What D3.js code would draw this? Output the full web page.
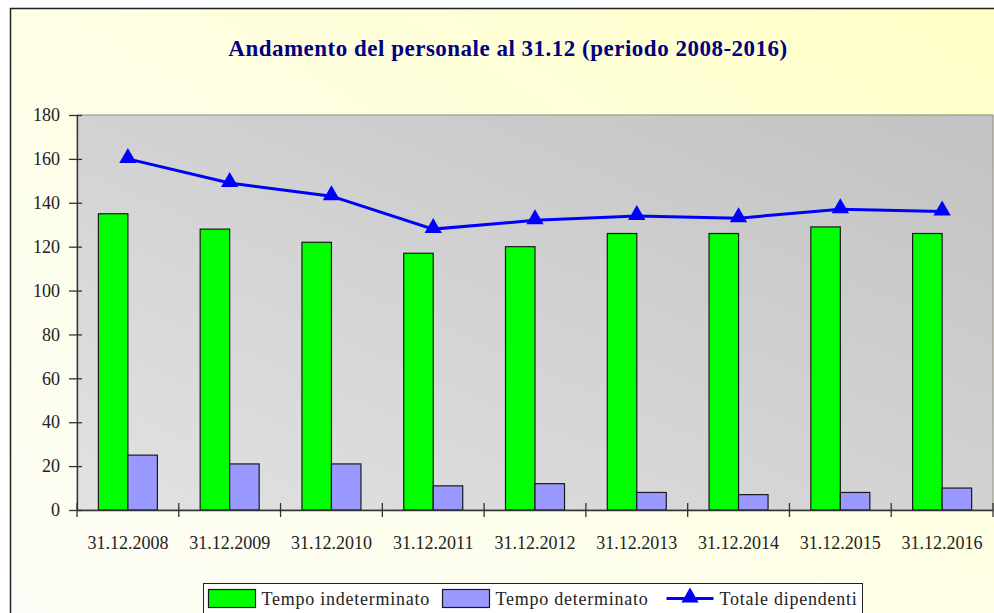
<!DOCTYPE html>
<html>
<head>
<meta charset="utf-8">
<script src="https://cdnjs.cloudflare.com/ajax/libs/d3/7.8.5/d3.min.js"></script>
<style>
  body { margin: 0; background: #fff; }
  svg { display: block; }
</style>
</head>
<body>
<svg width="994" height="613"></svg>
<script>
var categories = ["31.12.2008", "31.12.2009", "31.12.2010", "31.12.2011", "31.12.2012",
                  "31.12.2013", "31.12.2014", "31.12.2015", "31.12.2016"];
var indeterminato = [135, 128, 122, 117, 120, 126, 126, 129, 126];
var determinato = [25, 21, 21, 11, 12, 8, 7, 8, 10];
var totale = [160, 149, 143, 128, 132, 134, 133, 137, 136];
var yTicks = [0, 20, 40, 60, 80, 100, 120, 140, 160, 180];

var svg = d3.select("svg"),
    font = "'Liberation Serif', 'Times New Roman', serif",
    margin = {top: 115, right: 1, bottom: 103, left: 77},
    width = svg.attr("width") - margin.left - margin.right,
    height = svg.attr("height") - margin.top - margin.bottom;

var defs = svg.append("defs");

var bgGrad = defs.append("linearGradient")
    .attr("id", "bg")
    .attr("x1", "0").attr("y1", "1").attr("x2", "1").attr("y2", "0");
bgGrad.append("stop").attr("offset", "0").attr("stop-color", "#fdfdf8");
bgGrad.append("stop").attr("offset", "0.5").attr("stop-color", "#fefee6");
bgGrad.append("stop").attr("offset", "1").attr("stop-color", "#ffffc4");

var plotGrad = defs.append("linearGradient")
    .attr("id", "plotbg")
    .attr("x1", "0").attr("y1", "1").attr("x2", "1").attr("y2", "0");
plotGrad.append("stop").attr("offset", "0").attr("stop-color", "#e2e2e2");
plotGrad.append("stop").attr("offset", "1").attr("stop-color", "#c2c2c2");

// outer chart frame
svg.append("rect")
    .attr("x", 10.5).attr("y", 8.5)
    .attr("width", 1000).attr("height", 620)
    .attr("fill", "url(#bg)")
    .attr("stroke", "#222")
    .attr("stroke-width", 1.5);

svg.append("text")
    .attr("x", 508)
    .attr("y", 56)
    .attr("text-anchor", "middle")
    .attr("font-family", font)
    .attr("font-weight", "bold")
    .attr("font-size", 23)
    .attr("letter-spacing", 0.5)
    .attr("fill", "#000080")
    .text("Andamento del personale al 31.12 (periodo 2008-2016)");

var g = svg.append("g").attr("transform", "translate(" + margin.left + "," + margin.top + ")");

var x = d3.scaleBand().domain(categories).range([0, width]).paddingInner(0).paddingOuter(0),
    y = d3.scaleLinear().domain([0, 180]).range([height, 0]);

var barW = 29.5;

g.append("rect")
    .attr("width", width)
    .attr("height", height)
    .attr("fill", "url(#plotbg)")
    .attr("stroke", "#8a8a8a")
    .attr("stroke-width", 1);

// bars
g.selectAll(".bar-ind")
    .data(indeterminato)
    .enter().append("rect")
    .attr("class", "bar-ind")
    .attr("x", function(d, i) { return x(categories[i]) + x.bandwidth() / 2 - barW; })
    .attr("y", function(d) { return y(d); })
    .attr("width", barW)
    .attr("height", function(d) { return height - y(d); })
    .attr("fill", "#00ff00")
    .attr("stroke", "#1a1a1a")
    .attr("stroke-width", 1.2);

g.selectAll(".bar-det")
    .data(determinato)
    .enter().append("rect")
    .attr("class", "bar-det")
    .attr("x", function(d, i) { return x(categories[i]) + x.bandwidth() / 2; })
    .attr("y", function(d) { return y(d); })
    .attr("width", barW)
    .attr("height", function(d) { return height - y(d); })
    .attr("fill", "#9999ff")
    .attr("stroke", "#1a1a1a")
    .attr("stroke-width", 1.2);

// axes
var yAxis = g.append("g")
    .call(d3.axisLeft(y).tickValues(yTicks).tickSize(8).tickPadding(9).tickSizeOuter(0));
yAxis.select(".domain").attr("stroke", "#333").attr("stroke-width", 1.3);
yAxis.selectAll(".tick line").attr("stroke", "#333").attr("stroke-width", 1.3).attr("x2", 5).attr("x1", -8);
yAxis.selectAll(".tick text")
    .attr("font-family", font).attr("font-size", 18).attr("fill", "#222");

var xAxis = g.append("g")
    .attr("transform", "translate(0," + height + ")")
    .call(d3.axisBottom(x).tickSize(0).tickPadding(26));
xAxis.select(".domain").attr("stroke", "#333").attr("stroke-width", 1.3);
xAxis.selectAll(".tick text")
    .attr("font-family", font).attr("font-size", 18).attr("fill", "#222");

// category boundary ticks
g.append("g")
    .selectAll("line")
    .data(d3.range(categories.length + 1))
    .enter().append("line")
    .attr("x1", function(i) { return i * x.step(); })
    .attr("x2", function(i) { return i * x.step(); })
    .attr("y1", height - 7)
    .attr("y2", height + 7)
    .attr("stroke", "#333")
    .attr("stroke-width", 1.3);

// total line
var line = d3.line()
    .x(function(d, i) { return x(categories[i]) + x.bandwidth() / 2; })
    .y(function(d) { return y(d); });

g.append("path")
    .datum(totale)
    .attr("d", line)
    .attr("fill", "none")
    .attr("stroke", "#0000ff")
    .attr("stroke-width", 3);

var tri = d3.symbol().type(d3.symbolTriangle).size(130);

g.selectAll(".marker")
    .data(totale)
    .enter().append("path")
    .attr("class", "marker")
    .attr("transform", function(d, i) {
        return "translate(" + (x(categories[i]) + x.bandwidth() / 2) + "," + (y(d) - 1) + ")";
    })
    .attr("d", tri)
    .attr("fill", "#0000ff");

// legend
var legend = svg.append("g").attr("transform", "translate(203.5,583.5)");

legend.append("rect")
    .attr("width", 659)
    .attr("height", 40)
    .attr("fill", "#fff")
    .attr("stroke", "#222")
    .attr("stroke-width", 1);

var legendItems = [
    {name: "Tempo indeterminato", color: "#00ff00", x: 5, type: "bar"},
    {name: "Tempo determinato", color: "#9999ff", x: 239, type: "bar"},
    {name: "Totale dipendenti", color: "#0000ff", x: 463, type: "line"}
];

var li = legend.selectAll(".item")
    .data(legendItems)
    .enter().append("g")
    .attr("class", "item")
    .attr("transform", function(d) { return "translate(" + d.x + ",0)"; });

li.filter(function(d) { return d.type === "bar"; })
    .append("rect")
    .attr("x", 0).attr("y", 6)
    .attr("width", 47).attr("height", 18)
    .attr("fill", function(d) { return d.color; })
    .attr("stroke", "#1a1a1a")
    .attr("stroke-width", 1.2);

var lineItem = li.filter(function(d) { return d.type === "line"; });
lineItem.append("line")
    .attr("x1", 0).attr("x2", 47)
    .attr("y1", 15).attr("y2", 15)
    .attr("stroke", "#0000ff")
    .attr("stroke-width", 3);
lineItem.append("path")
    .attr("transform", "translate(23.5,14)")
    .attr("d", tri)
    .attr("fill", "#0000ff");

li.append("text")
    .attr("x", 53)
    .attr("y", 21)
    .attr("font-family", font)
    .attr("font-size", 18)
    .attr("letter-spacing", 0.75)
    .attr("fill", "#222")
    .text(function(d) { return d.name; });
</script>
</body>
</html>
